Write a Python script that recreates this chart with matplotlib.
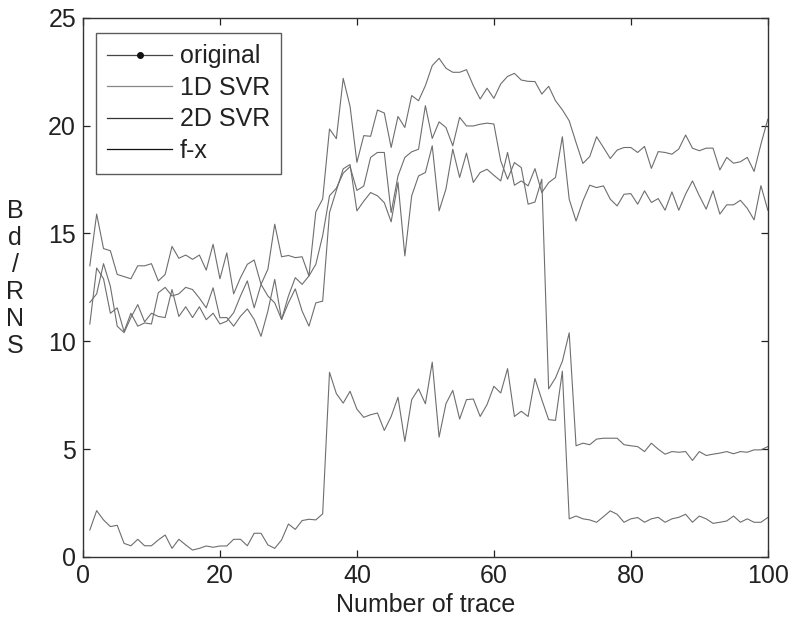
import matplotlib
matplotlib.use("Agg")
import matplotlib.pyplot as plt
from matplotlib.lines import Line2D
import numpy as np

plt.rcParams['font.family'] = ['Liberation Sans', 'DejaVu Sans']

trace = list(range(1, 101))

original = [11.8, 12.2, 13.6, 12.55, 10.7, 10.4, 11.1, 11.7, 10.9, 11.3, 11.15, 11.1, 12.4, 11.15, 11.6, 11.1, 11.6, 11.0, 11.3, 10.8,
            10.93, 11.32, 12.1, 12.8, 11.55, 12.64, 12.1, 11.78, 11.01, 12.1, 12.95, 12.64, 13.03, 13.57, 14.9, 16.75, 17.1, 17.8, 18.1, 17.0,
            17.2, 18.53, 18.76, 18.76, 15.97, 17.67, 18.53, 18.79, 18.91, 20.93, 19.41, 20.18, 19.92, 19.07, 20.39, 19.99, 19.99, 20.07, 20.12, 20.08,
            18.37, 17.52, 18.29, 18.06, 16.36, 16.46, 17.52, 7.79, 8.3, 9.07, 10.39, 5.15, 5.27, 5.2, 5.46, 5.5, 5.5, 5.5, 5.2, 5.15,
            5.11, 4.88, 5.27, 4.99, 4.76, 4.88, 4.85, 4.88, 4.47, 4.88, 4.7, 4.76, 4.81, 4.88, 4.78, 4.88, 4.85, 4.96, 4.96, 5.11]

svr_1d = [13.5, 15.9, 14.3, 14.2, 13.1, 13.0, 12.9, 13.5, 13.5, 13.6, 12.8, 13.1, 14.4, 13.85, 14.0, 13.8, 14.0, 13.3, 14.5, 12.9,
          14.1, 12.2, 12.95, 13.57, 13.77, 12.64, 13.34, 15.43, 13.92, 13.98, 13.88, 13.92, 13.03, 16.0, 16.6, 19.85, 19.4, 22.2, 20.9, 18.3,
          19.54, 19.51, 20.73, 20.59, 18.99, 20.43, 19.92, 21.4, 21.16, 21.86, 22.79, 23.13, 22.67, 22.48, 22.48, 22.6, 21.86, 21.24, 21.74, 21.27,
          21.94, 22.29, 22.43, 22.12, 22.06, 22.05, 21.47, 21.83, 21.16, 20.74, 20.23, 19.22, 18.25, 18.57, 19.49, 18.99, 18.48, 18.87, 18.99, 18.99,
          18.76, 19.04, 18.02, 18.8, 18.76, 18.68, 18.92, 19.57, 18.96, 18.84, 18.96, 18.96, 17.95, 18.53, 18.26, 18.33, 18.53, 17.88, 19.15, 20.3]

svr_2d = [10.8, 13.4, 12.9, 11.3, 11.55, 10.45, 11.3, 10.7, 10.85, 10.8, 12.25, 12.5, 12.1, 12.2, 12.5, 12.4, 12.0, 11.55, 12.48, 11.09,
          11.1, 10.7, 11.16, 11.5, 11.01, 10.23, 11.4, 12.87, 11.01, 11.78, 12.43, 11.4, 10.7, 11.78, 11.86, 15.97, 17.0, 18.0, 18.2, 16.05,
          16.5, 16.9, 16.75, 16.43, 15.54, 17.37, 13.96, 16.75, 17.67, 17.83, 19.07, 16.05, 17.06, 18.91, 17.6, 18.73, 17.37, 17.83, 17.98, 17.7,
          17.44, 18.76, 17.24, 17.44, 17.21, 18.01, 16.9, 17.36, 17.6, 19.49, 16.59, 15.58, 16.51, 17.24, 17.13, 17.21, 16.59, 16.28, 16.82, 16.85,
          16.36, 16.98, 16.44, 16.62, 16.08, 16.93, 16.08, 16.83, 17.44, 16.75, 16.13, 16.98, 15.9, 16.33, 16.33, 16.54, 16.17, 15.63, 17.22, 16.08]

fx = [1.24, 2.14, 1.71, 1.40, 1.46, 0.62, 0.51, 0.81, 0.51, 0.51, 0.78, 1.01, 0.39, 0.81, 0.55, 0.31, 0.39, 0.50, 0.44, 0.50,
      0.50, 0.81, 0.81, 0.51, 1.09, 1.09, 0.55, 0.39, 0.78, 1.52, 1.27, 1.68, 1.74, 1.71, 1.99, 8.56, 7.57, 7.13, 7.68, 6.85,
      6.47, 6.59, 6.67, 5.86, 6.51, 7.40, 5.35, 7.29, 7.79, 7.10, 9.03, 5.55, 7.10, 7.72, 6.39, 7.29, 7.32, 6.51, 7.06, 7.91,
      7.60, 8.73, 6.51, 6.75, 6.51, 8.27, 7.29, 6.36, 6.33, 8.61, 1.76, 1.89, 1.76, 1.71, 1.60, 1.86, 2.13, 1.97, 1.60, 1.76,
      1.82, 1.60, 1.76, 1.83, 1.60, 1.76, 1.83, 1.97, 1.60, 1.89, 1.76, 1.55, 1.60, 1.66, 1.89, 1.60, 1.76, 1.60, 1.60, 1.82]

labels = ['original', '1D SVR', '2D SVR', 'f-x']
x_ticks = [0, 20, 40, 60, 80, 100]
y_ticks = [0, 5, 10, 15, 20, 25]

FS = 18
fig = plt.figure(figsize=(7.94, 6.2), dpi=100)
ax = fig.add_axes([0.1045, 0.102, 0.8625, 0.869])

line_col = '#6e6e6e'
for series in (original, svr_1d, svr_2d, fx):
    ax.plot(trace, series, color=line_col, linewidth=0.8)

ax.set_xlim(0, 100)
ax.set_ylim(0, 25)
ax.set_xticks(x_ticks)
ax.set_yticks(y_ticks)
ax.tick_params(direction='in', length=5, width=0.9, top=True, right=True,
               labelsize=FS, colors='#222222', pad=5)
for s in ax.spines.values():
    s.set_color('#333333')
    s.set_linewidth(1.0)

ax.set_xlabel('Number of trace', fontsize=FS, color='#222222', labelpad=4)
fig.text(0.019, 0.551, 'B\nd\n/\nR\nN\nS', fontsize=FS, color='#222222',
         ha='center', va='center', linespacing=1.15)

handles = [
    Line2D([], [], color='#444444', linewidth=0.9, marker='.', markersize=8,
           markerfacecolor='#111111', markeredgecolor='#111111'),
    Line2D([], [], color='#888888', linewidth=0.9),
    Line2D([], [], color='#333333', linewidth=0.9),
    Line2D([], [], color='#111111', linewidth=0.9),
]
leg = ax.legend(handles, labels, loc='upper left', bbox_to_anchor=(0.019, 0.972),
                borderaxespad=0, fontsize=FS, frameon=True, fancybox=False,
                numpoints=1, handlelength=2.6, handletextpad=0.3,
                labelspacing=0.3, borderpad=0.45)
leg.get_frame().set_edgecolor('#333333')
leg.get_frame().set_linewidth(1.0)
for t in leg.get_texts():
    t.set_color('#222222')

fig.savefig('out.png', dpi=100)
